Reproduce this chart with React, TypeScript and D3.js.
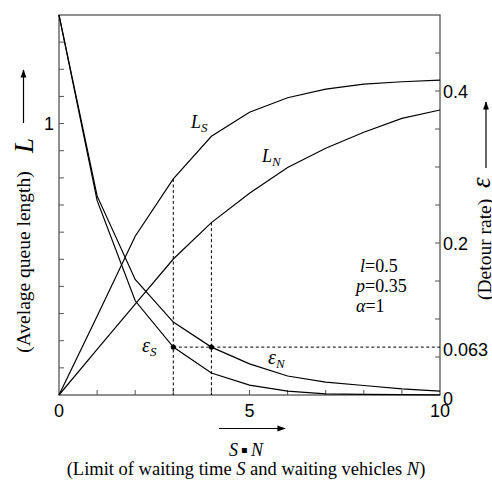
import React from 'react';
import { scaleLinear, line, range } from 'd3';

// S, N values on the horizontal axis
const steps = [0, 1, 2, 3, 4, 5, 6, 7, 8, 9, 10];
// average queue length (left axis)
const queueS = [0, 0.29, 0.585, 0.796, 0.953, 1.042, 1.095, 1.127, 1.145, 1.154, 1.16];
const queueN = [0, 0.168, 0.335, 0.501, 0.635, 0.743, 0.838, 0.909, 0.968, 1.019, 1.05];
// detour rate (right axis)
const detourS = [0.5, 0.256, 0.124, 0.063, 0.029, 0.013, 0.005, 0.0016, 0.0008, 0.0004, 0.0002];
const detourN = [0.5, 0.262, 0.152, 0.096, 0.063, 0.041, 0.025, 0.017, 0.0125, 0.008, 0.005];

const xTickLabels = [0, 5, 10];
const leftTickLabels = [1];
const rightTickLabels = [0.4, 0.2, 0.063, 0];
const marked = 0.063;

const width = 492;
const height = 480;
const left = 59;
const right = 440;
const top = 15;
const bottom = 395;

const serif = '"Liberation Serif", "Times New Roman", serif';
const sans = '"Liberation Sans", Arial, sans-serif';
const axisColor = '#555';

const App = () => {
  const x = scaleLinear().domain([0, 10]).range([left, right]);
  const yL = scaleLinear().domain([0, 1.4]).range([bottom, top]);
  const yR = scaleLinear().domain([0, 0.5]).range([bottom, top]);

  const path = (vals: number[], y: any) =>
    line<number>()
      .x((_, i) => x(steps[i]))
      .y(d => y(d))(vals) as string;

  const leftMinor = range(1, 14).map(i => i / 10);
  const rightMinor = range(1, 10).map(i => i * 0.05);
  const bottomMinor = range(1, 10);

  return (
    <svg
      width={width}
      height={height}
      style={{ position: 'absolute', left: 0, top: 0, background: '#fff' }}
    >
      <defs>
        <marker id="arr" viewBox="0 0 10 10" refX="9" refY="5" markerWidth="7" markerHeight="7" orient="auto">
          <path d="M0,1.5 L10,5 L0,8.5 Z" fill="#000" />
        </marker>
      </defs>

      {/* frame */}
      <rect x={left} y={top} width={right - left} height={bottom - top} fill="none" stroke={axisColor} strokeWidth={1.3} />

      {/* ticks */}
      {leftMinor.map(v => (
        <line key={'l' + v} x1={left} x2={left + 5} y1={yL(v)} y2={yL(v)} stroke={axisColor} strokeWidth={1} />
      ))}
      {rightMinor.map(v => (
        <line key={'r' + v} x1={right} x2={right - 5} y1={yR(v)} y2={yR(v)} stroke={axisColor} strokeWidth={1} />
      ))}
      {bottomMinor.map(v => (
        <line key={'b' + v} x1={x(v)} x2={x(v)} y1={bottom} y2={bottom - 5} stroke={axisColor} strokeWidth={1} />
      ))}

      {/* tick labels */}
      <g fontFamily={sans} fontSize={18} fill="#000">
        {xTickLabels.map(v => (
          <text key={'xt' + v} x={x(v)} y={bottom + 22} textAnchor="middle">{v}</text>
        ))}
        {leftTickLabels.map(v => (
          <text key={'lt' + v} x={left - 5} y={yL(v) + 6.5} textAnchor="end">{v}</text>
        ))}
        {rightTickLabels.map(v => (
          <text key={'rt' + v} x={right + 3} y={yR(v) + (v === 0 ? 9.5 : v === marked ? 8.5 : 6.5)}>{v}</text>
        ))}
      </g>

      {/* guide lines */}
      <g stroke="#000" strokeWidth={1} strokeDasharray="3,2.5" fill="none">
        <line x1={x(3)} x2={x(3)} y1={yL(queueS[3])} y2={bottom} />
        <line x1={x(4)} x2={x(4)} y1={yL(queueN[4])} y2={bottom} />
        <line x1={x(3)} x2={right} y1={yR(marked)} y2={yR(marked)} />
      </g>

      {/* curves */}
      <g fill="none" stroke="#000" strokeWidth={1.2}>
        <path d={path(queueS, yL)} />
        <path d={path(queueN, yL)} />
        <path d={path(detourS, yR)} />
        <path d={path(detourN, yR)} />
      </g>
      <circle cx={x(3)} cy={yR(detourS[3])} r={2.6} fill="#000" />
      <circle cx={x(4)} cy={yR(detourN[4])} r={2.6} fill="#000" />

      {/* curve labels */}
      <g fontFamily={serif} fontStyle="italic" fill="#000">
        <text x={191} y={128} fontSize={18}>L<tspan fontSize={13} dy={4}>S</tspan></text>
        <text x={262} y={162} fontSize={18}>L<tspan fontSize={13} dy={4}>N</tspan></text>
        <text x={142} y={352} fontSize={20}>ε<tspan fontSize={13} dy={4}>S</tspan></text>
        <text x={268} y={364} fontSize={20}>ε<tspan fontSize={13} dy={4}>N</tspan></text>
      </g>

      {/* parameters */}
      <g fontFamily={serif} fontSize={18} fill="#000">
        <text x={360} y={272}><tspan fontStyle="italic">l</tspan>=0.5</text>
        <text x={356} y={292}><tspan fontStyle="italic">p</tspan>=0.35</text>
        <text x={356} y={312}><tspan fontStyle="italic">α</tspan>=1</text>
      </g>

      {/* left axis title */}
      <g fontFamily={serif} fill="#000">
        <text transform="translate(30,262) rotate(-90)" fontSize={19.5} textAnchor="middle">(Avelage queue length)</text>
        <text transform="translate(33,153) rotate(-90)" fontSize={27} fontStyle="italic">L</text>
      </g>
      <line x1={23.5} x2={23.5} y1={123} y2={70} stroke="#000" strokeWidth={1.2} markerEnd="url(#arr)" />

      {/* right axis title */}
      <g fontFamily={serif} fill="#000">
        <text transform="translate(491,300) rotate(-90)" fontSize={19.5}>(Detour rate)</text>
        <text transform="translate(490,188) rotate(-90)" fontSize={27} fontStyle="italic">ε</text>
      </g>
      <line x1={486} x2={486} y1={168} y2={102} stroke="#000" strokeWidth={1.2} markerEnd="url(#arr)" />

      {/* bottom title */}
      <line x1={219} x2={285} y1={428.5} y2={428.5} stroke="#000" strokeWidth={1.2} markerEnd="url(#arr)" />
      <text x={246} y={456} textAnchor="middle" fontFamily={serif} fontSize={18} fill="#000">
        <tspan fontStyle="italic">S</tspan>
        <tspan fontFamily='"DejaVu Sans", sans-serif' fontSize={10} dy={-3}> ▪ </tspan>
        <tspan fontStyle="italic" dy={3}>N</tspan>
      </text>
      <text x={246} y={475} textAnchor="middle" fontFamily={serif} fontSize={18.5} fill="#000">
        (Limit of waiting time <tspan fontStyle="italic">S</tspan> and waiting vehicles <tspan fontStyle="italic">N</tspan>)
      </text>
    </svg>
  );
};

export default App;
